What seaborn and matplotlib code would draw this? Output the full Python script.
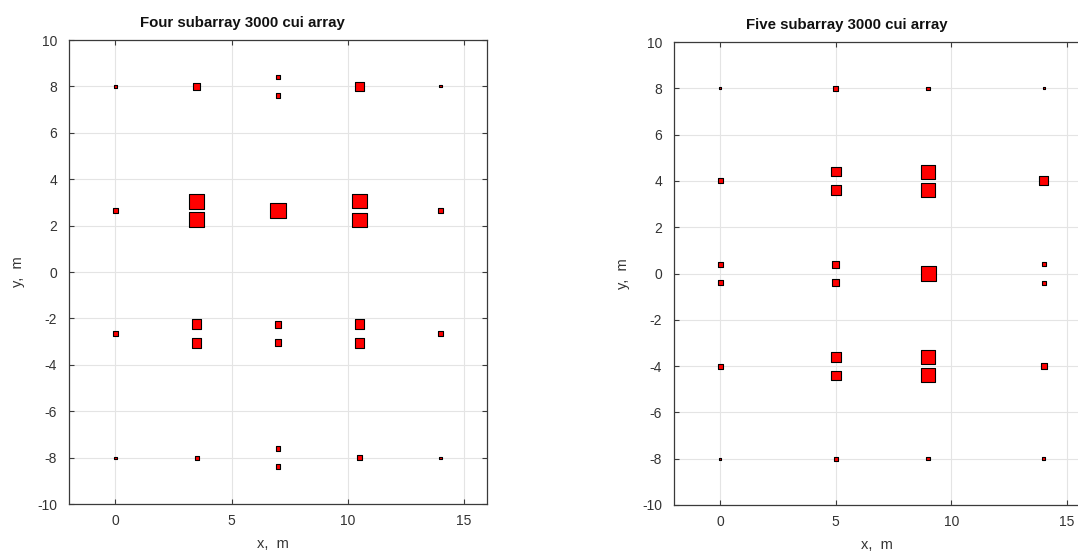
import matplotlib
matplotlib.use("Agg")
import matplotlib.pyplot as plt
import seaborn as sns
import pandas as pd

# ---- data: Four subarray ----
x4 = [0, 3.5, 7, 7, 10.5, 14,
      0, 3.5, 3.5, 7, 10.5, 10.5, 14,
      0, 3.5, 3.5, 7, 7, 10.5, 10.5, 14,
      0, 3.5, 7, 7, 10.5, 14]
y4 = [8, 8, 8.4, 7.6, 8, 8,
      2.65, 3.05, 2.25, 2.65, 3.05, 2.25, 2.65,
      -2.65, -2.25, -3.05, -2.25, -3.05, -2.25, -3.05, -2.65,
      -8, -8, -7.6, -8.4, -8, -8]
g4 = [3.5, 7, 5, 5, 10, 2.7,
      4.7, 15.3, 15.3, 16, 15, 15, 4.7,
      5.3, 10, 10, 7.3, 7.3, 10, 10, 5.3,
      2.7, 4.7, 5.3, 5.3, 5.3, 2.7]

# ---- data: Five subarray ----
x5 = [0, 5, 9, 14,
      0, 5, 5, 9, 9, 14,
      0, 0, 5, 5, 9, 14, 14,
      0, 5, 5, 9, 9, 14,
      0, 5, 9, 14]
y5 = [8, 8, 8, 8,
      4, 4.4, 3.6, 4.4, 3.6, 4,
      0.4, -0.4, 0.4, -0.4, 0, 0.4, -0.4,
      -4, -3.6, -4.4, -3.6, -4.4, -4,
      -8, -8, -8, -8]
g5 = [2.7, 5.3, 4, 2.7,
      5.3, 10, 10, 14.7, 14.7, 9.3,
      5.3, 5.3, 7.3, 7.3, 15.3, 4.7, 4.7,
      5.3, 10, 10, 14.7, 14.7, 6.7,
      2.7, 4.7, 4, 3.3]

titles = ["Four subarray 3000 cui array", "Five subarray 3000 cui array"]
xticks = [0, 5, 10, 15]
yticks = [-10, -8, -6, -4, -2, 0, 2, 4, 6, 8, 10]

sns.set_theme(style="whitegrid")
plt.rcParams["font.family"] = ["Liberation Sans", "DejaVu Sans"]
plt.rcParams["axes.unicode_minus"] = False

fig = plt.figure(figsize=(10.78, 5.53), dpi=100)
W, H = 1078, 553
ax1 = fig.add_axes([69 / W, (H - 504) / H, 418 / W, 464 / H])
ax2 = fig.add_axes([674 / W, (H - 505) / H, 416 / W, 463 / H])

def draw(ax, xs, ys, gs, title):
    df = pd.DataFrame({"x": xs, "y": ys, "g": gs})
    # gun size value -> marker area (pt^2)
    s = [((v - 0.5) * 0.72) ** 2 for v in df["g"]]
    sns.scatterplot(data=df, x="x", y="y", ax=ax, marker="s", s=s,
                    color="red", edgecolor="black", linewidth=0.8, zorder=3,
                    legend=False)
    ax.set_xlim(-2, 16)
    ax.set_ylim(-10, 10)
    ax.set_xticks(xticks)
    ax.set_yticks(yticks)
    ax.set_facecolor("white")
    ax.grid(True, color="#e4e4e4", linewidth=0.8)
    for sp in ax.spines.values():
        sp.set_visible(True)
        sp.set_color("#3a3a3a")
        sp.set_linewidth(0.9)
    ax.tick_params(direction="in", length=3.6, width=0.8, colors="#3a3a3a",
                   labelcolor="#333333", labelsize=10,
                   top=True, right=True, left=True, bottom=True)
    ax.tick_params(axis="x", pad=7)
    ax.tick_params(axis="y", pad=8.5)
    ax.set_xlabel("x,  m", fontsize=10.5, color="#333333", labelpad=7.5)
    ax.xaxis.set_label_coords(0.487, -0.072)
    ax.set_ylabel("y,  m", fontsize=10.5, color="#333333", labelpad=9)
    ax.set_title(title, fontsize=10.8, fontweight="bold", color="#111111",
                 pad=9, x=0.415)

draw(ax1, x4, y4, g4, titles[0])
draw(ax2, x5, y5, g5, titles[1])

fig.savefig("out.png", dpi=100)
